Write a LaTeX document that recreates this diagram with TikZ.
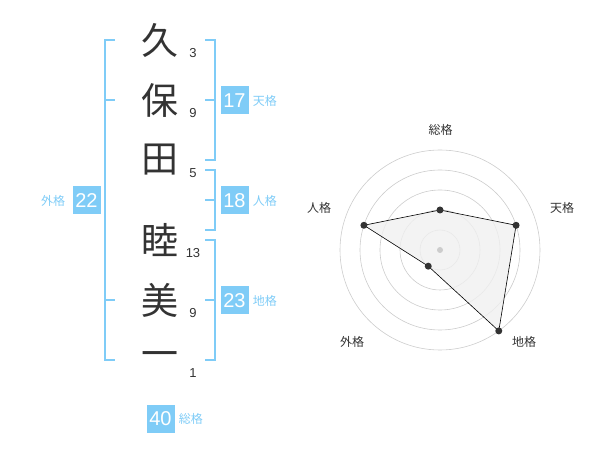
\documentclass[tikz,border=0pt]{standalone}
\usepackage{fontspec}
\setmainfont{Liberation Sans}
\newfontfamily\jpfont{Noto Sans CJK JP}
\usepackage{tikz}
\usetikzlibrary{positioning}
\definecolor{kakublue}{HTML}{7FCCF7}
\definecolor{inkgray}{HTML}{333333}
\definecolor{ringgray}{HTML}{CCCCCC}
\definecolor{areagray}{HTML}{F0F0F0}

\begin{document}
\begin{tikzpicture}[
    x=1pt, y=-1pt,
    node distance=4pt,
    kanji/.style={font=\jpfont\fontsize{37}{37}\selectfont, text=inkgray, inner sep=0pt},
    strokes/.style={font=\fontsize{13}{13}\selectfont, text=inkgray, inner sep=0pt},
    score/.style={rectangle, fill=kakublue, text=white, minimum size=28pt, inner sep=0pt, font=\fontsize{20}{20}\selectfont},
    kaku/.style={text=kakublue, inner sep=0pt, font=\jpfont\fontsize{12}{12}\selectfont},
    bracket/.style={draw=kakublue, line width=2pt},
    ring/.style={draw=ringgray, line width=0.6pt},
    axislabel/.style={text=inkgray, inner sep=0pt, font=\jpfont\fontsize{12}{12}\selectfont},
    dot/.style={circle, fill=inkgray, inner sep=0pt, minimum size=7pt}
]
    \useasboundingbox (0,0) rectangle (600,470);

    % name
    \node[kanji] (ku) at (160,40) {久};
    \node[kanji] (ho) at (160,100) {保};
    \node[kanji] (ta) at (160,160) {田};
    \node[kanji] (mutsu) at (160,240) {睦};
    \node[kanji] (mi) at (160,300) {美};
    \node[kanji] (ichi) at (160,360) {一};

    \node[strokes] (sku) at (193,53) {3};
    \node[strokes] (sho) at (193,113) {9};
    \node[strokes] (sta) at (193,173) {5};
    \node[strokes] (smutsu) at (193,253) {13};
    \node[strokes] (smi) at (193,313) {9};
    \node[strokes] (sichi) at (193,373) {1};

    % brackets
    \draw[bracket] (115,40) -- (105,40) -- (105,360) -- (115,360);
    \draw[bracket] (105,100) -- (115,100);
    \draw[bracket] (105,300) -- (115,300);
    \draw[bracket] (205,40) -- (215,40) -- (215,160) -- (205,160);
    \draw[bracket] (215,100) -- (205,100);
    \draw[bracket] (205,170) -- (215,170) -- (215,230) -- (205,230);
    \draw[bracket] (215,200) -- (205,200);
    \draw[bracket] (205,240) -- (215,240) -- (215,360) -- (205,360);
    \draw[bracket] (215,300) -- (205,300);

    % scores
    \node[score] (ten) at (234.5,100.5) {17};
    \node[kaku, right=of ten] (tenl) {天格};
    \node[score] (jin) at (234.5,200.5) {18};
    \node[kaku, right=of jin] (jinl) {人格};
    \node[score] (chi) at (234.5,300.5) {23};
    \node[kaku, right=of chi] (chil) {地格};
    \node[score] (gai) at (86.5,200.5) {22};
    \node[kaku, left=7pt of gai] (gail) {外格};
    \node[score] (sou) at (160.5,419) {40};
    \node[kaku, right=of sou] (soul) {総格};

    % radar
    \begin{scope}[shift={(440pt,-250pt)}]
        \foreach \r in {20,40,60,80,100}
            \draw[ring] (0,0) circle (\r pt);
        \coordinate (psou) at (90:40pt);
        \coordinate (pten) at (18:80pt);
        \coordinate (pchi) at (-54:100pt);
        \coordinate (pgai) at (-126:20pt);
        \coordinate (pjin) at (162:80pt);
        \filldraw[fill=areagray, fill opacity=0.8, draw=black, line width=0.6pt]
            (psou) -- (pten) -- (pchi) -- (pgai) -- (pjin) -- cycle;
        \node[circle, fill=ringgray, inner sep=0pt, minimum size=6pt] (mid) at (0,0) {};
        \node[dot] (dsou) at (psou) {};
        \node[dot] (dten) at (pten) {};
        \node[dot] (dchi) at (pchi) {};
        \node[dot] (dgai) at (pgai) {};
        \node[dot] (djin) at (pjin) {};
    \end{scope}
    \node[axislabel] (asou) at (440.5,130) {総格};
    \node[axislabel] (aten) at (562,208) {天格};
    \node[axislabel] (achi) at (524,342) {地格};
    \node[axislabel] (agai) at (352,342) {外格};
    \node[axislabel] (ajin) at (319,208) {人格};
\end{tikzpicture}
\end{document}
